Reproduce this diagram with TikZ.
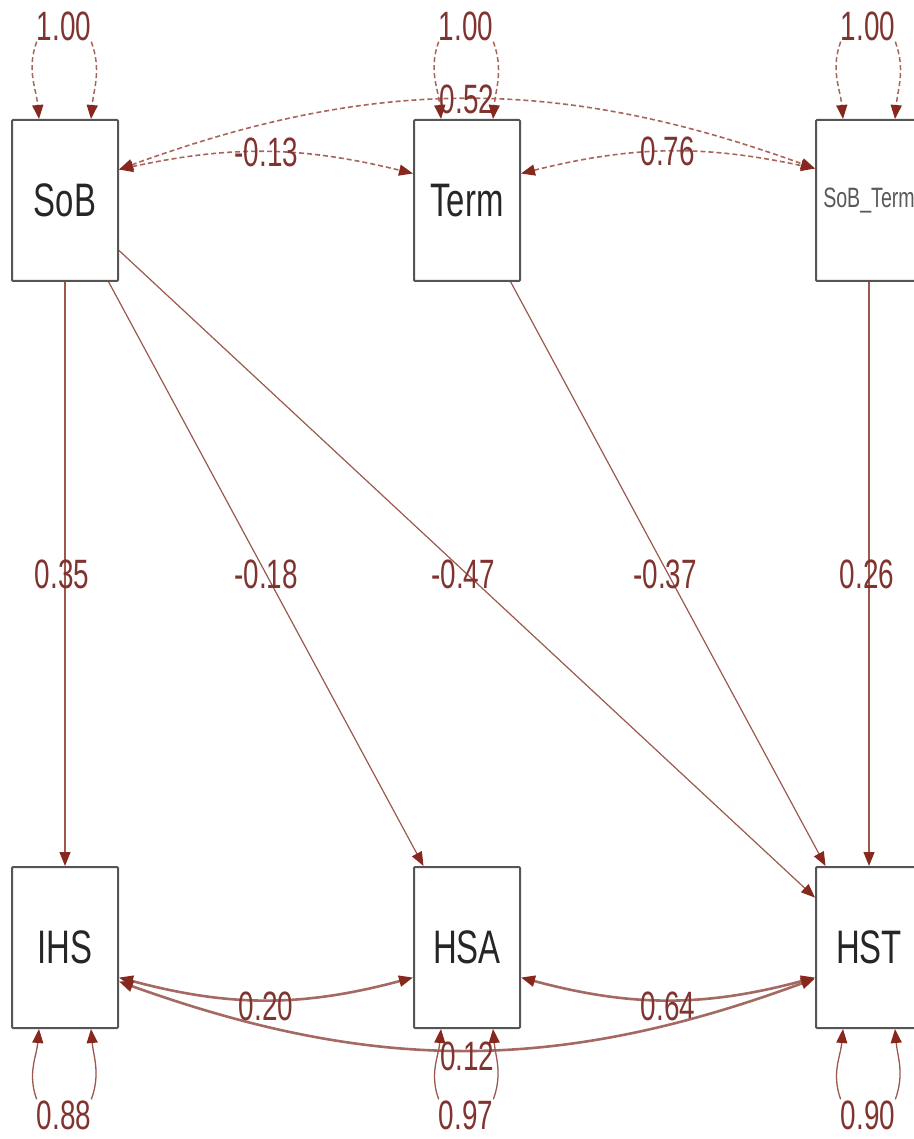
\documentclass[tikz,border=0pt]{standalone}
\usepackage{fontspec}
\usetikzlibrary{arrows.meta}
\newfontfamily\numfont[FakeStretch=0.68]{Liberation Sans}
\newfontfamily\boxfont[FakeStretch=0.70]{Liberation Sans}
\definecolor{edgec}{RGB}{155,88,78}
\definecolor{tipc}{RGB}{135,40,30}
\definecolor{lblc}{RGB}{128,52,48}
\definecolor{boxc}{RGB}{85,85,85}
\definecolor{covc}{RGB}{165,105,100}
\definecolor{dashc}{RGB}{170,100,90}
\tikzset{
  var/.style={draw=boxc, line width=2pt, fill=white, minimum width=106pt,
    minimum height=161pt, inner sep=0pt, rounded corners=1pt,
    font=\boxfont\fontsize{47}{47}\selectfont, text=black!85},
  lbl/.style={inner sep=1pt, text=lblc, font=\numfont\fontsize{41}{41}\selectfont},
  tiph/.style={-{Triangle[length=14pt,width=11pt,color=tipc]}},
  tipb/.style={{Triangle[length=14pt,width=11pt,color=tipc]}-{Triangle[length=14pt,width=11pt,color=tipc]}},
  reg/.style={draw=edgec, line width=1.2pt, tiph},
  dcov/.style={draw=dashc, line width=1.6pt, dash pattern=on 5pt off 3pt, tipb},
  scov/.style={draw=covc, line width=2.6pt, tipb},
  dloop/.style={draw=dashc, line width=1.5pt, dash pattern=on 5pt off 3pt, tiph},
  sloop/.style={draw=edgec, line width=1.3pt, tiph}
}
\begin{document}
\begin{tikzpicture}[x=1pt,y=1pt]
\useasboundingbox (0,0) rectangle (913,-1139);

% observed variables
\node[var] (SoB)  at (65,-200.5)  {SoB};
\node[var] (Term) at (467,-200.5) {Term};
\node[var, font=\boxfont\fontsize{28}{28}\selectfont, text=black!65] (SoBT) at (869,-200.5) {SoB\_Term};
\node[var] (IHS)  at (65,-947.5)  {IHS};
\node[var] (HSA)  at (467,-947.5) {HSA};
\node[var] (HST)  at (869,-947.5) {HST};

% regression paths
\draw[reg] (SoB)  -- node[lbl, xshift=-3pt] {0.35}  (IHS);
\draw[reg] (SoB)  -- node[lbl] {-0.18} (HSA);
\draw[reg] (SoB)  -- node[lbl, xshift=-4pt] {-0.47} (HST);
\draw[reg] (Term) -- node[lbl, xshift=-3pt] {-0.37} (HST);
\draw[reg] (SoBT) -- node[lbl, xshift=-2pt] {0.26}  (HST);

% covariances among the predictors
\draw[dcov] ([yshift=31pt]SoB.east) to[bend left=20] node[lbl] (c52) {0.52} ([yshift=32pt]SoBT.west);
\draw[dcov] ([yshift=31pt]SoB.east) to[bend left=13] node[lbl] (c13) {-0.13} ([yshift=27pt]Term.west);
\draw[dcov] ([yshift=27pt]Term.east) to[bend left=13] node[lbl] (c76) {0.76} ([yshift=32pt]SoBT.west);

% residual covariances among the outcomes
\draw[scov] ([yshift=-30pt]IHS.east) to[bend right=15] node[lbl, yshift=-7pt] (c20) {0.20} ([yshift=-30pt]HSA.west);
\draw[scov] ([yshift=-30pt]HSA.east) to[bend right=15] node[lbl, yshift=-7pt] (c64) {0.64} ([yshift=-30pt]HST.west);
\draw[scov] ([yshift=-34pt]IHS.east) to[bend right=20] node[lbl, yshift=-6pt] (c12) {0.12} ([yshift=-31pt]HST.west);

% variances of the predictors
\foreach \v/\n in {SoB/v1, Term/v2, SoBT/v3}{
  \path (\v.north) ++(-1,93) node[lbl] (\n) {1.00};
  \draw[dloop] ([xshift=1pt]\n.south west) to[out=250,in=95] ([xshift=-26pt]\v.north);
  \draw[dloop] ([xshift=-1pt]\n.south east) to[out=290,in=85] ([xshift=26pt]\v.north);
}

% residual variances of the outcomes
\foreach \v/\n/\t in {IHS/r1/0.88, HSA/r2/0.97, HST/r3/0.90}{
  \path (\v.south) ++(-1,-86) node[lbl] (\n) {\t};
  \draw[sloop] ([xshift=1pt]\n.north west) to[out=110,in=265] ([xshift=-26pt]\v.south);
  \draw[sloop] ([xshift=-1pt]\n.north east) to[out=70,in=275] ([xshift=26pt]\v.south);
}
\end{tikzpicture}
\end{document}
